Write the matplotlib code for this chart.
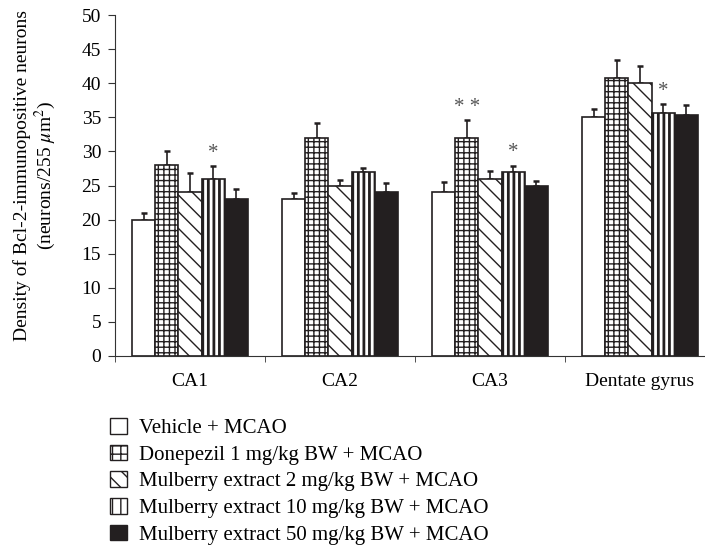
import numpy as np
import matplotlib.pyplot as plt
import matplotlib.patches as mpatches

# ==========================
# DATA
# ==========================

regions = ["CA1", "CA2", "CA3", "Dentate gyrus"]

groups = [
    "Vehicle + MCAO",
    "Donepezil 1 mg/kg BW + MCAO",
    "Mulberry extract 2 mg/kg BW + MCAO",
    "Mulberry extract 10 mg/kg BW + MCAO",
    "Mulberry extract 50 mg/kg BW + MCAO",
]

vehicle = [20.0, 23.0, 24.0, 35.1]
donepezil = [28.0, 32.0, 32.0, 40.8]
mulberry_2 = [24.0, 25.0, 26.0, 40.0]
mulberry_10 = [26.0, 27.0, 27.0, 35.7]
mulberry_50 = [23.0, 24.0, 25.0, 35.4]

vehicle_err = [0.9, 0.9, 1.5, 1.1]
donepezil_err = [2.0, 2.1, 2.6, 2.6]
mulberry_2_err = [2.9, 0.8, 1.1, 2.5]
mulberry_10_err = [1.8, 0.6, 0.9, 1.2]
mulberry_50_err = [1.5, 1.3, 0.7, 1.4]

# significance marks: (region index, group index, label)
stars = [(0, 3, "*"), (2, 1, "* *"), (2, 3, "*"), (3, 3, "*")]

# ==========================
# STYLE
# ==========================

plt.rcParams["font.family"] = ["Liberation Serif", "DejaVu Serif"]
plt.rcParams["mathtext.fontset"] = "stix"
plt.rcParams["hatch.linewidth"] = 1.0

values = [vehicle, donepezil, mulberry_2, mulberry_10, mulberry_50]
errors = [vehicle_err, donepezil_err, mulberry_2_err, mulberry_10_err, mulberry_50_err]
hatches = ["", "+++", "\\\\", "|||", ""]
legend_hatches = ["", "++", "\\\\", "||", ""]
hatch_widths = [1.0, 1.0, 1.0, 2.0, 1.0]
legend_hatch_widths = [1.0, 1.5, 1.0, 3.0, 1.0]
faces = ["white", "white", "white", "white", "#231f20"]
dark = "#231f20"

# ==========================
# CHART
# ==========================

fig = plt.figure(figsize=(7.05, 5.48), dpi=100)
ax = fig.add_axes([115 / 705, 1 - 356 / 548, 600 / 705, 341 / 548])

x = np.arange(len(regions))
width = 0.154
handles = []
for i in range(len(groups)):
    pos = x + (i - 2) * width
    with plt.rc_context({"hatch.linewidth": hatch_widths[i]}):
        ax.bar(pos, values[i], width, color=faces[i], edgecolor=dark,
               hatch=hatches[i], linewidth=1.2, zorder=2)
    with plt.rc_context({"hatch.linewidth": legend_hatch_widths[i]}):
        handles.append(mpatches.Patch(facecolor=faces[i], edgecolor=dark,
                                      hatch=legend_hatches[i], linewidth=1.0))
    ax.errorbar(pos, values[i], yerr=[np.zeros(len(regions)), errors[i]],
                fmt="none", ecolor=dark, elinewidth=1.2, capsize=2.5,
                capthick=1.8, zorder=1)

for r, g, lab in stars:
    top = values[g][r] + errors[g][r]
    ax.text(x[r] + (g - 2) * width, top + 0.5, lab, ha="center", va="bottom",
            fontsize=15, color="#555555")

ax.set_xlim(-0.5, 3.5)
ax.set_ylim(0, 50)
ax.set_yticks(np.arange(0, 51, 5))
ax.set_xticks(x)
ax.set_xticklabels(regions, fontsize=14)
ax.set_xticks([-0.5, 0.5, 1.5, 2.5], minor=True)
ax.tick_params(axis="x", which="major", length=0, pad=12)
ax.tick_params(axis="x", which="minor", length=4, direction="out", color="#333333")
ax.tick_params(axis="y", length=5, direction="out", labelsize=14, pad=5,
               color="#333333")

for side in ["top", "right"]:
    ax.spines[side].set_visible(False)
for side in ["left", "bottom"]:
    ax.spines[side].set_color("#333333")

ax.set_ylabel("Density of Bcl-2-immunopositive neurons\n(neurons/255 $\\mu$m$^2$)",
              fontsize=14, linespacing=1.1)
ax.yaxis.set_label_coords(-57 / 600, 0.53)

fig.legend(handles=handles, labels=groups, loc="upper left",
           bbox_to_anchor=(110 / 705, 1 - 418 / 548), frameon=False,
           fontsize=15, handlelength=0.82, handleheight=0.77, handletextpad=0.58,
           labelspacing=0.32, borderpad=0, borderaxespad=0)

plt.savefig("out.png", dpi=100)
